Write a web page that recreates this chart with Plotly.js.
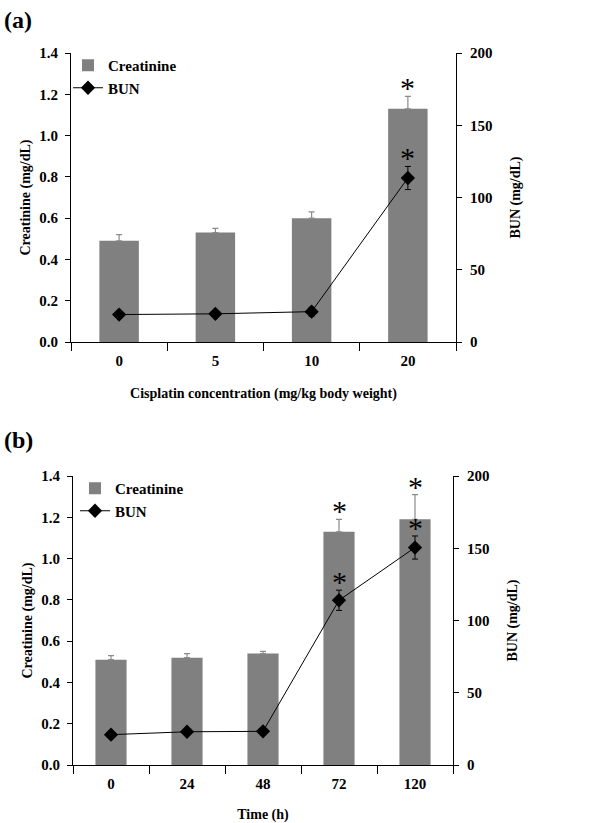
<!DOCTYPE html>
<html><head><meta charset="utf-8">
<script src="https://cdn.plot.ly/plotly-3.0.1.min.js"></script>
<style>body{margin:0;padding:0;background:#fff}#chart{width:614px;height:823px}</style>
</head><body><div id="chart"></div>
<script>
// Panel (a): dose
const doseCats = ["0", "5", "10", "20"];
const creatA = [0.49, 0.53, 0.60, 1.13];
const creatErrA = [0.03, 0.02, 0.03, 0.06];
const bunA = [19, 19.5, 21, 113.5];
const bunErrA = [1.5, 1.5, 3, 8];
const sigA = [false, false, false, true];

// Panel (b): time
const timeCats = ["0", "24", "48", "72", "120"];
const creatB = [0.51, 0.52, 0.54, 1.13, 1.19];
const creatErrB = [0.02, 0.02, 0.01, 0.06, 0.12];
const bunB = [21, 23, 23.3, 114, 150.5];
const bunErrB = [1.5, 1.5, 1.5, 7, 8];
const sigB = [false, false, false, true, true];

const serif = "Liberation Serif, Times New Roman, serif";
const barColor = "#808080";

function barTrace(x, y, err, xa, ya, lg) {
  return {type: "bar", name: "Creatinine", x: x, y: y, xaxis: xa, yaxis: ya, legend: lg,
    marker: {color: barColor, line: {width: 0}},
    error_y: {type: "data", array: err, arrayminus: err.map(() => 0), symmetric: false,
      color: "#8a8a8a", thickness: 1.2, width: 3}};
}
function bunTrace(x, y, err, xa, ya, lg) {
  return {type: "scatter", mode: "lines+markers", name: "BUN", x: x, y: y, xaxis: xa, yaxis: ya, legend: lg,
    line: {color: "#000", width: 1},
    marker: {symbol: "diamond", size: 11, color: "#000"},
    error_y: {type: "data", array: err, color: "#000", thickness: 1, width: 3}};
}

const data = [
  barTrace(doseCats, creatA, creatErrA, "x", "y", "legend"),
  bunTrace(doseCats, bunA, bunErrA, "x", "y2", "legend"),
  barTrace(timeCats, creatB, creatErrB, "x2", "y3", "legend2"),
  bunTrace(timeCats, bunB, bunErrB, "x2", "y4", "legend2")
];

const tickFont = {family: serif, size: 15, color: "#000", weight: "bold"};
const titleFont = {family: serif, size: 14, color: "#000", weight: "bold"};

function xax(domain, anchor, title, cats) {
  return {domain: domain, anchor: anchor, type: "category", tickson: "boundaries",
    categoryorder: "array", categoryarray: cats, range: [-0.5, cats.length - 0.5],
    showline: true, linecolor: "#000", linewidth: 1, ticks: "outside", ticklen: 8, tickcolor: "#000",
    ticklabelstandoff: 5,
    showgrid: false, zeroline: false, tickfont: tickFont, tickangle: 0,
    title: {text: title, font: titleFont, standoff: 20}, fixedrange: true};
}
function yLeft(domain, anchor) {
  return {domain: domain, anchor: anchor, range: [0, 1.4], dtick: 0.2, tickformat: ".1f",
    showline: true, linecolor: "#000", linewidth: 1, ticks: "outside", ticklen: 5, tickcolor: "#000",
    ticklabelstandoff: 4,
    showgrid: false, zeroline: false, tickfont: tickFont,
    title: {text: "Creatinine (mg/dL)", font: titleFont, standoff: 5}};
}
function yRight(domain, anchor, over) {
  return {domain: domain, anchor: anchor, overlaying: over, side: "right", range: [0, 200], dtick: 50,
    showline: true, linecolor: "#000", linewidth: 1, ticks: "outside", ticklen: 5, tickcolor: "#000",
    ticklabelstandoff: 5,
    showgrid: false, zeroline: false, tickfont: tickFont,
    title: {text: "BUN (mg/dL)", font: titleFont, standoff: 18}};
}

const domA = [1 - 342/823, 1 - 53/823];
const domB = [1 - 765/823, 1 - 476/823];

const annotations = [
  {xref: "paper", yref: "paper", x: 0.004, y: 1 - 20/823, xanchor: "left", yanchor: "middle",
   text: "(a)", showarrow: false, font: {family: serif, size: 24, color: "#000", weight: "bold"}},
  {xref: "paper", yref: "paper", x: 0.004, y: 1 - 440/823, xanchor: "left", yanchor: "middle",
   text: "(b)", showarrow: false, font: {family: serif, size: 24, color: "#000", weight: "bold"}}
];
function addStars(cats, vals, errs, sig, xa, ya) {
  cats.forEach((c, i) => {
    if (sig[i]) annotations.push({xref: xa, yref: ya, x: i, y: vals[i] + errs[i], yanchor: "bottom",
      text: "*", showarrow: false, yshift: -10, font: {family: serif, size: 30, color: "#000"}});
  });
}
addStars(doseCats, creatA, creatErrA, sigA, "x", "y");
addStars(doseCats, bunA, bunErrA, sigA, "x", "y2");
addStars(timeCats, creatB, creatErrB, sigB, "x2", "y3");
addStars(timeCats, bunB, bunErrB, sigB, "x2", "y4");

const legendFont = {family: serif, size: 15, color: "#000", weight: "bold"};
const layout = {
  width: 614, height: 823, margin: {l: 0, r: 0, t: 0, b: 0},
  paper_bgcolor: "#fff", plot_bgcolor: "#fff", bargap: 0.59, showlegend: true,
  font: {family: serif, color: "#000"},
  xaxis: xax([71/614, 456/614], "y", "Cisplatin concentration (mg/kg body weight)", doseCats),
  yaxis: yLeft(domA, "x"),
  yaxis2: yRight(domA, "x", "y"),
  xaxis2: xax([73/614, 453/614], "y3", "Time (h)", timeCats),
  yaxis3: yLeft(domB, "x2"),
  yaxis4: yRight(domB, "x2", "y3"),
  legend: {x: 68/614, y: 1 - 49/823, xanchor: "left", yanchor: "top", bgcolor: "rgba(0,0,0,0)",
    font: legendFont, itemwidth: 30, tracegroupgap: 0},
  legend2: {x: 75/614, y: 1 - 472/823, xanchor: "left", yanchor: "top", bgcolor: "rgba(0,0,0,0)",
    font: legendFont, itemwidth: 30, tracegroupgap: 0},
  annotations: annotations
};
Plotly.newPlot("chart", data, layout, {displayModeBar: false, staticPlot: true});
</script></body></html>
